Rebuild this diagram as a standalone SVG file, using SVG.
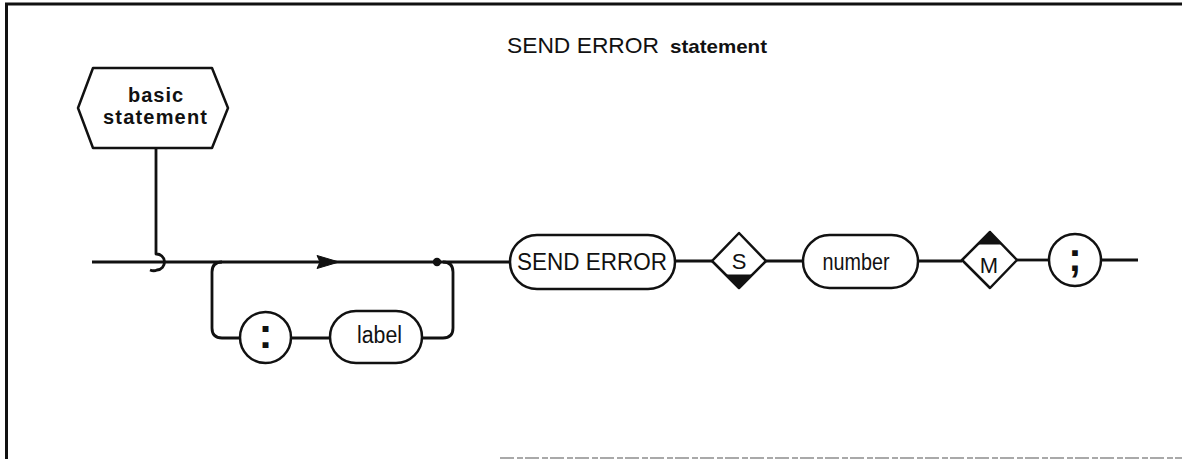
<svg xmlns="http://www.w3.org/2000/svg" width="1182" height="459" viewBox="0 0 1182 459">
<style>
.sh{fill:#fff;stroke:#111;stroke-width:2.5;stroke-linejoin:round}
.ln{fill:none;stroke:#111;stroke-width:2.8;stroke-linecap:butt;stroke-linejoin:round}
.t{font-family:"Liberation Sans",Arial,sans-serif;fill:#111;text-anchor:middle}
.b{font-weight:bold}
.blk{fill:#111;stroke:#111;stroke-width:1}
</style>
<rect width="1182" height="459" fill="#fff"/>
<g id="frame">
<path d="M6.5,459 V4 H1182" fill="none" stroke="#111" stroke-width="3"/>
<path d="M500,458 H1182" fill="none" stroke="#555" stroke-width="1.2" stroke-dasharray="14 3 6 2"/>
</g>
<g id="title">
<text class="t" y="53" style="text-anchor:start"><tspan x="507" font-size="22" textLength="152" lengthAdjust="spacingAndGlyphs">SEND ERROR</tspan><tspan x="670" font-size="19" font-weight="bold" textLength="97" lengthAdjust="spacingAndGlyphs">statement</tspan></text>
</g>
<g id="connectors">
<path class="ln" d="M156,148 V254 A8,8 0 0 1 157,270 Q154,271.5 150,270"/>
<path class="ln" d="M92,262 H510"/>
<polygon class="blk" points="317,255.5 339,262 317,268.5 320,262"/>
<circle cx="437" cy="262" r="4.2" fill="#111"/>
<path class="ln" d="M222,262 Q212,262 212,272 V328 Q212,338 222,338 H240"/>
<path class="ln" d="M291,338 H330"/>
<path class="ln" d="M422,338 H443 Q453,338 453,328 V272 Q453,262 443,262"/>
<path class="ln" d="M675,261 H712"/>
<path class="ln" d="M766,261 H803"/>
<path class="ln" d="M918,261 H962"/>
<path class="ln" d="M1017,260 H1049"/>
<path class="ln" d="M1101,260 H1138"/>
</g>
<g id="basic-statement">
<polygon class="sh" points="93,68 212,68 228,108 212,148 93,148 78,108"/>
<text class="t b" x="156" y="102" font-size="20" letter-spacing="1">basic</text>
<text class="t b" x="155" y="124" font-size="20" textLength="104" lengthAdjust="spacing">statement</text>
</g>
<g id="colon">
<circle class="sh" cx="265.5" cy="337.5" r="25.5"/>
<text class="t b" x="265.5" y="348" font-size="42">:</text>
</g>
<g id="label">
<rect class="sh" x="330" y="311" width="92" height="52" rx="26"/>
<text class="t" x="379.5" y="343" font-size="23" textLength="45" lengthAdjust="spacingAndGlyphs">label</text>
</g>
<g id="send-error">
<rect class="sh" x="510" y="235" width="165" height="54" rx="27"/>
<text class="t" x="592" y="270" font-size="24" textLength="150" lengthAdjust="spacingAndGlyphs">SEND ERROR</text>
</g>
<g id="s-diamond">
<polygon class="sh" points="712,261 739,233 766,261 739,288"/>
<polygon class="blk" points="726,275 752,275 739,288"/>
<text class="t" x="739" y="269" font-size="22">S</text>
</g>
<g id="number">
<rect class="sh" x="803" y="235" width="115" height="53" rx="26.5"/>
<text class="t" x="856" y="270" font-size="24" textLength="67" lengthAdjust="spacingAndGlyphs">number</text>
</g>
<g id="m-diamond">
<polygon class="sh" points="962,260 990,232 1017,260 990,288"/>
<polygon class="blk" points="978,244 1002,244 990,232"/>
<text class="t" x="989" y="273" font-size="22">M</text>
</g>
<g id="semicolon">
<circle class="sh" cx="1075" cy="260" r="26"/>
<text class="t b" x="1075" y="271" font-size="40">;</text>
</g>
</svg>
